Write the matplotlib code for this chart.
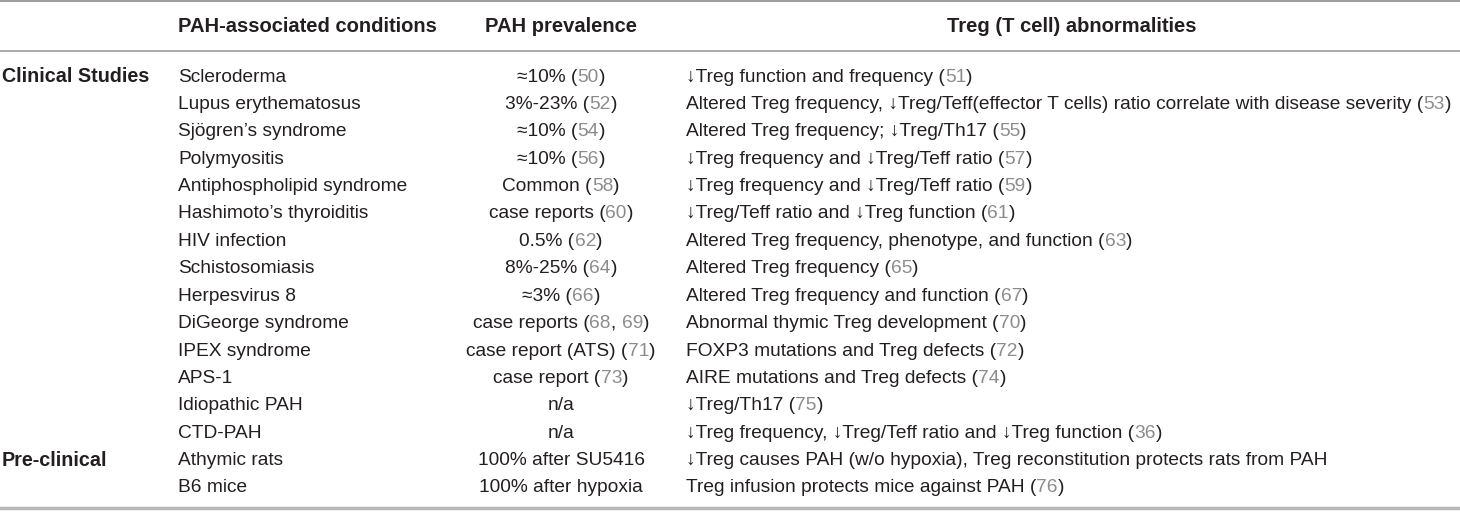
import re
import matplotlib
matplotlib.use("Agg")
import matplotlib.pyplot as plt

plt.rcParams['font.family'] = ['Liberation Sans', 'DejaVu Sans']

headers = ["PAH-associated conditions", "PAH prevalence", "Treg (T cell) abnormalities"]
groups = {0: "Clinical Studies", 14: "Pre-clinical"}
conditions = ["Scleroderma", "Lupus erythematosus", "Sjögren’s syndrome", "Polymyositis",
              "Antiphospholipid syndrome", "Hashimoto’s thyroiditis", "HIV infection",
              "Schistosomiasis", "Herpesvirus 8", "DiGeorge syndrome", "IPEX syndrome",
              "APS-1", "Idiopathic PAH", "CTD-PAH", "Athymic rats", "B6 mice"]
# {nn} = citation number (drawn grey)
prevalence = ["≈10% ({50})", "3%-23% ({52})", "≈10% ({54})", "≈10% ({56})", "Common ({58})",
              "case reports ({60})", "0.5% ({62})", "8%-25% ({64})", "≈3% ({66})",
              "case reports ({68}, {69})", "case report (ATS) ({71})", "case report ({73})",
              "n/a", "n/a", "100% after SU5416", "100% after hypoxia"]
abnormalities = ["↓Treg function and frequency ({51})",
                 "Altered Treg frequency, ↓Treg/Teff(effector T cells) ratio correlate with disease severity ({53})",
                 "Altered Treg frequency; ↓Treg/Th17 ({55})",
                 "↓Treg frequency and ↓Treg/Teff ratio ({57})",
                 "↓Treg frequency and ↓Treg/Teff ratio ({59})",
                 "↓Treg/Teff ratio and ↓Treg function ({61})",
                 "Altered Treg frequency, phenotype, and function ({63})",
                 "Altered Treg frequency ({65})",
                 "Altered Treg frequency and function ({67})",
                 "Abnormal thymic Treg development ({70})",
                 "FOXP3 mutations and Treg defects ({72})",
                 "AIRE mutations and Treg defects ({74})",
                 "↓Treg/Th17 ({75})",
                 "↓Treg frequency, ↓Treg/Teff ratio and ↓Treg function ({36})",
                 "↓Treg causes PAH (w/o hypoxia), Treg reconstitution protects rats from PAH",
                 "Treg infusion protects mice against PAH ({76})"]

W, H = 1460, 513
fs = 13.75       # body text
fs_head = 14.5   # column headers
fs_group = 14.2  # group labels
dark = "#231f20"
grey = "#8c8c8c"

fig = plt.figure(figsize=(W / 100, H / 100), dpi=100)
ax = fig.add_axes([0, 0, 1, 1])
ax.set_xlim(0, W)
ax.set_ylim(H, 0)
ax.axis("off")
renderer = fig.canvas.get_renderer()


def width(s, **kw):
    t = ax.text(0, 0, s + "|", fontsize=fs, **kw)
    t2 = ax.text(0, 0, "|", fontsize=fs, **kw)
    w = t.get_window_extent(renderer).width - t2.get_window_extent(renderer).width
    t.remove()
    t2.remove()
    return w


def draw_runs(x, y, s, ha="left"):
    parts = re.split(r"(\{[^}]*\})", s)
    plain = "".join(p.strip("{}") for p in parts)
    total = width(plain)
    x0 = x - total / 2 if ha == "center" else x
    prefix = ""
    for p in parts:
        if not p:
            continue
        cite = p.startswith("{")
        txt = p.strip("{}")
        ax.text(x0 + width(prefix), y, txt, fontsize=fs, va="center", ha="left",
                color=grey if cite else dark)
        prefix += txt


col1_x = 178
col2_c = 561
col3_x = 686
col3_c = 1072
head_y = 27
row_y0 = 77
row_dy = 27.4

# rules
ax.plot([0, W], [1, 1], color="#8a8a8a", lw=1.2)
ax.plot([0, W], [51, 51], color="#9c9c9c", lw=1.2)
ax.plot([0, W], [508, 508], color="#b8b8b8", lw=2.5)

ax.text(col1_x, head_y, headers[0], fontsize=fs_head, fontweight="bold", va="center", color=dark)
ax.text(col2_c, head_y, headers[1], fontsize=fs_head, fontweight="bold", va="center", ha="center", color=dark)
ax.text(col3_c, head_y, headers[2], fontsize=fs_head, fontweight="bold", va="center", ha="center", color=dark)

for i in range(len(conditions)):
    y = row_y0 + i * row_dy
    if i in groups:
        ax.text(2, y, groups[i], fontsize=fs_group, fontweight="bold", va="center", color=dark)
    ax.text(col1_x, y, conditions[i], fontsize=fs, va="center", color=dark)
    draw_runs(col2_c, y, prevalence[i], ha="center")
    draw_runs(col3_x, y, abnormalities[i])

fig.savefig("out.png", dpi=100)
